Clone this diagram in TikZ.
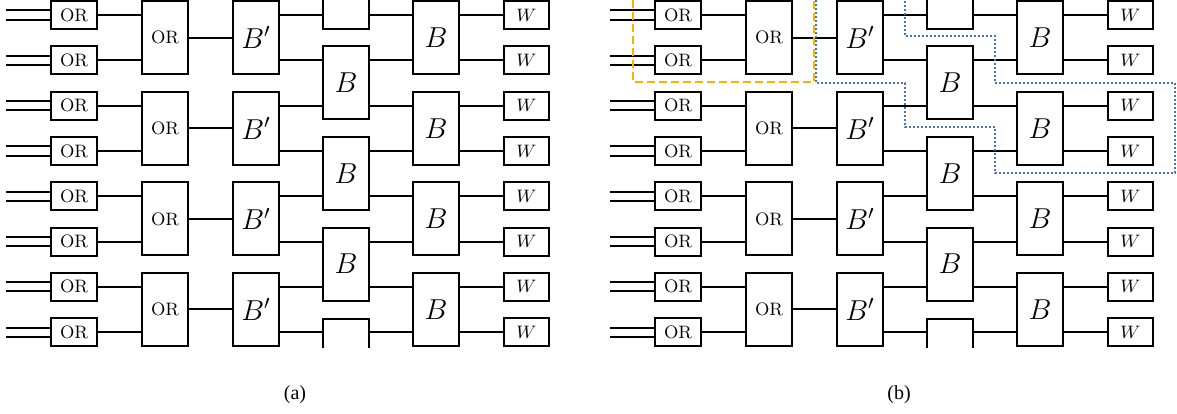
\documentclass[tikz,border=0pt]{standalone}
\usepackage{fontspec}
\usepackage{xcolor}
\usepackage{tikz}
\newfontfamily\capfont{Liberation Serif}
\definecolor{regyellow}{HTML}{F5B400}
\definecolor{regblue}{HTML}{4472C4}

\begin{document}
\begin{tikzpicture}[
    x=0.5pt, y=-0.5pt,
    gate/.style={rectangle, draw, line width=1pt, minimum width=23pt, minimum height=14pt, inner sep=0pt, font=\small},
    block/.style={rectangle, draw, line width=1pt, minimum width=23pt, minimum height=36.5pt, inner sep=0pt, font=\Large},
    wire/.style={line width=1pt}
]
\useasboundingbox (0,0) rectangle (1177,413);

\foreach \p/\dx in {a/0, b/604} {
    % input ORs and output W boxes
    \foreach \i in {1,...,8} {
        \node[gate] (or\p\i) at (74+\dx, 15+45.3*\i-45.3) {OR};
        \node[gate, minimum width=22.5pt] (w\p\i) at (526.5+\dx, 15+45.3*\i-45.3) {$W$};
        \draw[wire] ([yshift=2.3pt]or\p\i.west) -- ++(-44,0);
        \draw[wire] ([yshift=-2.3pt]or\p\i.west) -- ++(-44,0);
    }
    % blocks over pairs of rows
    \foreach \k in {1,...,4} {
        \pgfmathtruncatemacro{\ia}{2*\k-1}
        \pgfmathtruncatemacro{\ib}{2*\k}
        \node[block, font=\small] (bor\p\k) at (165+\dx, 37.65+90.6*\k-90.6) {OR};
        \node[block] (bp\p\k) at (256+\dx, 37.65+90.6*\k-90.6) {$B'$};
        \node[block] (out\p\k) at (436+\dx, 37.65+90.6*\k-90.6) {$B$};
        \draw[wire] (or\p\ia.east) -- (or\p\ia.east -| bor\p\k.west);
        \draw[wire] (or\p\ib.east) -- (or\p\ib.east -| bor\p\k.west);
        \draw[wire] (bor\p\k) -- (bp\p\k);
    }
    \foreach \k in {1,...,3}
        \node[block] (mix\p\k) at (346+\dx, 82.95+90.6*\k-90.6) {$B$};
    % cut blocks at top and bottom
    \draw[wire] (323+\dx,0) |- (369+\dx,29) -- (369+\dx,0);
    \draw[wire] (323+\dx,348) |- (369+\dx,319) -- (369+\dx,348);
    % row wires between columns
    \foreach \i in {1,...,8} {
        \pgfmathtruncatemacro{\k}{(\i+1)/2}
        \draw[wire] (bp\p\k.east |- or\p\i) -- (mix\p1.west |- or\p\i);
        \draw[wire] (mix\p1.east |- or\p\i) -- (out\p\k.west |- or\p\i);
        \draw[wire] (out\p\k.east |- or\p\i) -- (w\p\i);
    }
    \node[font=\capfont] (cap\p) at (295+\dx,395) {(\p)};
}

% marked regions in (b)
\draw[regyellow, line width=1pt, dash pattern=on 4pt off 2pt] (633,0) -- (633,82) -- (814,82) -- (814,0);
\draw[regblue, line width=0.9pt, dash pattern=on 0.9pt off 1.1pt]
    (816,0) -- (816,83) -- (905,83) -- (905,127) -- (995,127) -- (995,173)
    -- (1175,173) -- (1175,83) -- (995,83) -- (995,36) -- (905,36) -- (905,0);

\end{tikzpicture}
\end{document}
